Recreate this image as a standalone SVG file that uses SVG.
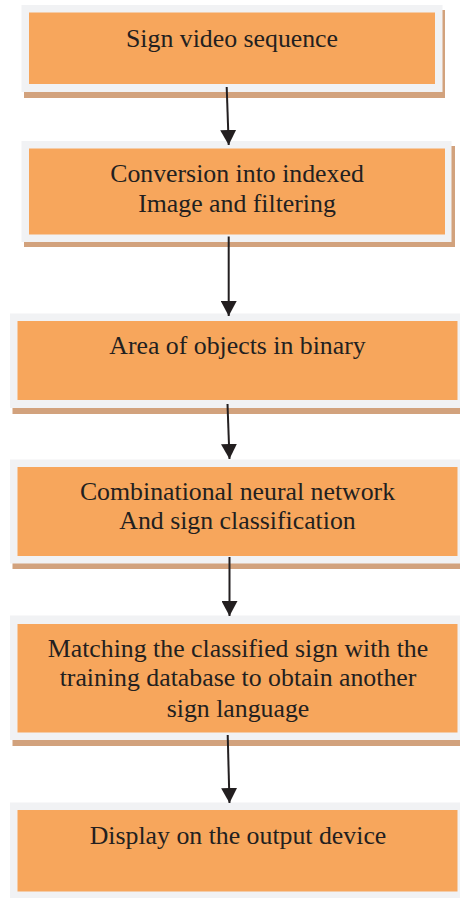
<svg xmlns="http://www.w3.org/2000/svg" width="460" height="898" viewBox="0 0 460 898">
  <defs>
    <style>
      .shadow { fill: #D2A27D; }
      .frame { fill: #F1F2F4; }
      .body { fill: #F7A65C; }
      .label { font-family: 'Liberation Serif', serif; font-size: 25.8px; fill: #231F20; text-anchor: middle; }
      .link { stroke: #231F20; stroke-width: 2; fill: none; marker-end: url(#head); }
    </style>
    <marker id="head" markerUnits="userSpaceOnUse" viewBox="0 0 16 16" markerWidth="16" markerHeight="16" refX="15" refY="8" orient="auto">
      <path d="M0,0 L15,8 L0,16 Z" fill="#231F20"/>
    </marker>
  </defs>
  <rect width="460" height="898" fill="#FFFFFF"/>

  <g id="node-video">
    <rect class="shadow" x="24" y="10" width="421" height="88"/>
    <rect class="frame" x="21.5" y="5" width="421" height="87"/>
    <rect class="body" x="29" y="12.5" width="406" height="71.5"/>
    <text class="label" x="232" y="47">Sign video sequence</text>
  </g>

  <g id="node-indexed">
    <rect class="shadow" x="24" y="146" width="431" height="101"/>
    <rect class="frame" x="21.5" y="141" width="430" height="101"/>
    <rect class="body" x="29" y="148.5" width="416" height="86"/>
    <text class="label" x="237" y="181.5">Conversion into indexed</text>
    <text class="label" x="237" y="211.5">Image and filtering</text>
  </g>

  <g id="node-binary">
    <rect class="shadow" x="12.5" y="318" width="460" height="96"/>
    <rect class="frame" x="10" y="313.5" width="460" height="94.5"/>
    <rect class="body" x="17.5" y="321" width="440" height="79"/>
    <text class="label" x="237.5" y="354">Area of objects in binary</text>
  </g>

  <g id="node-network">
    <rect class="shadow" x="12.5" y="464" width="460" height="105"/>
    <rect class="frame" x="10" y="459.5" width="460" height="104"/>
    <rect class="body" x="17.5" y="467" width="440" height="89"/>
    <text class="label" x="237.5" y="500">Combinational neural network</text>
    <text class="label" x="237.5" y="529">And sign classification</text>
  </g>

  <g id="node-matching">
    <rect class="shadow" x="12.5" y="620" width="460" height="126"/>
    <rect class="frame" x="10" y="615.5" width="460" height="124.5"/>
    <rect class="body" x="17.5" y="624" width="440" height="108.5"/>
    <text class="label" x="238" y="656.5">Matching the classified sign with the</text>
    <text class="label" x="238" y="686">training database to obtain another</text>
    <text class="label" x="238" y="716.5">sign language</text>
  </g>

  <g id="node-display">
    <rect class="frame" x="10" y="802.5" width="460" height="100"/>
    <rect class="body" x="17.5" y="810" width="440" height="81.5"/>
    <text class="label" x="238" y="844">Display on the output device</text>
  </g>

  <g id="connectors">
    <line class="link" x1="226.7" y1="87" x2="228.7" y2="145"/>
    <line class="link" x1="228.7" y1="236.5" x2="228.7" y2="316"/>
    <line class="link" x1="227.5" y1="404" x2="229.5" y2="459"/>
    <line class="link" x1="229.5" y1="557" x2="229.5" y2="616"/>
    <line class="link" x1="227.7" y1="735" x2="229.5" y2="803"/>
  </g>
</svg>
